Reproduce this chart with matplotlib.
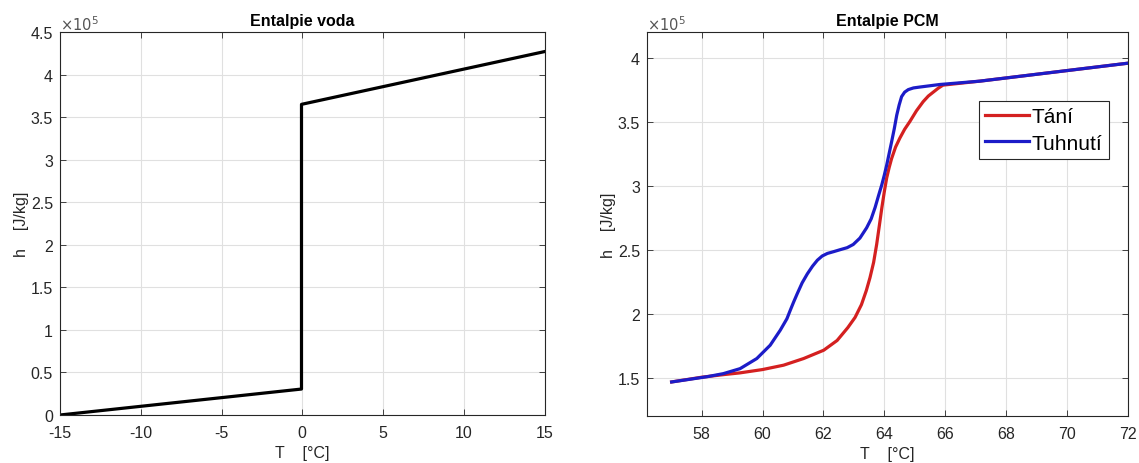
import matplotlib
matplotlib.use("Agg")
import matplotlib.pyplot as plt
from matplotlib.ticker import FuncFormatter, MultipleLocator

plt.rcParams['font.family'] = ['Liberation Sans', 'DejaVu Sans']
plt.rcParams['axes.unicode_minus'] = False

# ---- data ----
water_T = [-15, -0.05, -0.05, 15]
water_h = [0.0, 0.305e5, 3.65e5, 4.27e5]

tani_T = [57.01, 58.0, 58.71, 59.26, 60.0, 60.69, 61.35, 62.01, 62.45, 62.8,
          63.04, 63.25, 63.41, 63.53, 63.65, 63.75, 63.84, 63.92, 64.0, 64.08, 64.16,
          64.24, 64.37, 64.51, 64.67, 64.84, 65.06, 65.28, 65.45, 65.61, 65.77, 65.93,
          67.14, 72.0]
tani_h = [1.466e5, 1.503e5, 1.523e5, 1.537e5, 1.563e5, 1.597e5, 1.649e5, 1.714e5,
          1.79e5, 1.89e5, 1.97e5, 2.07e5, 2.18e5, 2.28e5, 2.40e5, 2.54e5,
          2.69e5, 2.826e5, 2.95e5, 3.06e5, 3.14e5, 3.21e5, 3.30e5, 3.37e5, 3.44e5,
          3.50e5, 3.585e5, 3.656e5, 3.70e5, 3.73e5, 3.76e5, 3.785e5, 3.816e5, 3.956e5]

tuhn_T = [57.01, 57.61, 58.2, 58.71, 59.26, 59.81, 60.25, 60.58, 60.8, 60.91,
          61.02, 61.14, 61.3, 61.47, 61.64, 61.8, 61.96, 62.13, 62.35, 62.56, 62.78,
          62.98, 63.2, 63.42, 63.57, 63.7, 63.81, 63.92, 64.0, 64.08, 64.16, 64.24,
          64.33, 64.41, 64.49, 64.57, 64.67, 64.79, 64.96, 65.17, 65.5, 65.83, 67.14, 72.0]
tuhn_h = [1.466e5, 1.487e5, 1.508e5, 1.531e5, 1.57e5, 1.649e5, 1.753e5, 1.87e5,
          1.96e5, 2.026e5, 2.09e5, 2.156e5, 2.24e5, 2.31e5, 2.37e5, 2.417e5,
          2.45e5, 2.47e5, 2.485e5, 2.50e5, 2.515e5, 2.54e5, 2.59e5, 2.67e5, 2.74e5,
          2.83e5, 2.92e5, 3.007e5, 3.08e5, 3.16e5, 3.25e5, 3.34e5, 3.445e5, 3.55e5,
          3.63e5, 3.695e5, 3.73e5, 3.75e5, 3.763e5, 3.77e5, 3.78e5, 3.79e5, 3.816e5,
          3.956e5]

left_title = "Entalpie voda"
right_title = "Entalpie PCM"
xlabel = "T    [°C]"
ylabel = "h    [J/kg]"
legend_labels = ["Tání", "Tuhnutí"]

W, H = 1139, 464
fig = plt.figure(figsize=(W / 100, H / 100), dpi=100)
ax1 = fig.add_axes([60 / W, 1 - 416 / H, (544.6 - 60) / W, (416 - 33) / H])
ax2 = fig.add_axes([647 / W, 1 - 417 / H, (1127.6 - 647) / W, (417 - 33) / H])

tick_col = '#262626'
fmt = FuncFormatter(lambda v, p: f"{v / 1e5:g}")


def style(ax, ylabelpad):
    ax.grid(True, color='#e0e0e0', linewidth=0.8)
    ax.set_axisbelow(True)
    ax.tick_params(direction='in', top=True, right=True, labelsize=11.5,
                   colors=tick_col, length=4, width=0.6)
    ax.tick_params(axis='x', pad=7)
    ax.tick_params(axis='y', pad=5)
    for s in ax.spines.values():
        s.set_color('#262626')
        s.set_linewidth(0.8)
    ax.yaxis.set_major_formatter(fmt)
    ax.set_xlabel(xlabel, fontsize=11.5, color=tick_col, labelpad=4)
    ax.set_ylabel(ylabel, fontsize=11.5, color=tick_col, labelpad=ylabelpad)
    ax.text(0.0, 0.998, r"$\times10^{5}$", transform=ax.transAxes, ha='left', va='bottom',
            fontsize=10.5, color='#555555')


ax1.plot(water_T, water_h, color='black', linewidth=2.3)
ax1.set_xlim(-15, 15)
ax1.set_ylim(0, 4.5e5)
ax1.xaxis.set_major_locator(MultipleLocator(5))
ax1.yaxis.set_major_locator(MultipleLocator(0.5e5))
ax1.set_title(left_title, fontsize=11.5, fontweight='bold', pad=5)
style(ax1, 1.5)

ax2.plot(tani_T, tani_h, color='#d42020', linewidth=2.3, label=legend_labels[0])
ax2.plot(tuhn_T, tuhn_h, color='#1c1cc8', linewidth=2.3, label=legend_labels[1])
ax2.set_xlim(56.2, 72)
ax2.set_ylim(1.2e5, 4.2e5)
ax2.xaxis.set_major_locator(MultipleLocator(2))
ax2.yaxis.set_major_locator(MultipleLocator(0.5e5))
ax2.set_title(right_title, fontsize=11.5, fontweight='bold', pad=5)
style(ax2, 1.5)
leg = ax2.legend(loc='upper right', bbox_to_anchor=(0.961, 0.820), fontsize=15,
                 frameon=True, fancybox=False, edgecolor='#262626', framealpha=1,
                 handlelength=2.1, handletextpad=0.15, borderpad=0.3, labelspacing=0.35,
                 borderaxespad=0)
leg.get_frame().set_linewidth(0.8)

fig.savefig("out.png", dpi=100)
